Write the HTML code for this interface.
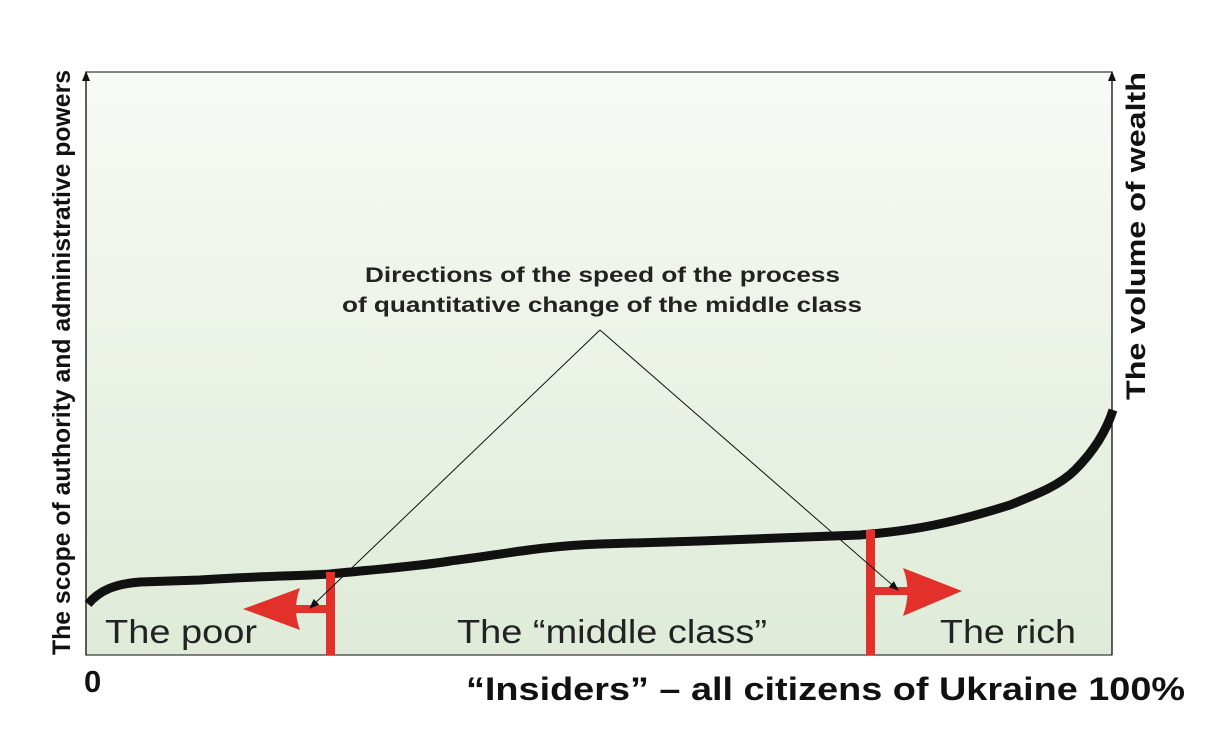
<!DOCTYPE html>
<html><head><meta charset="utf-8"><style>
body{margin:0;background:#fff;width:1205px;height:744px;overflow:hidden}
svg{display:block}
text{font-family:"Liberation Sans",sans-serif}
</style></head><body>
<svg width="1205" height="744" viewBox="0 0 1205 744">
<defs>
<linearGradient id="g" x1="0" y1="0" x2="0" y2="1">
<stop offset="0" stop-color="#f8faf5"/><stop offset="1" stop-color="#dfebd8"/>
</linearGradient>
<marker id="a" markerWidth="10" markerHeight="8" refX="9" refY="4" orient="auto" markerUnits="userSpaceOnUse"><path d="M0,0 L10,4 L0,8 Z" fill="#111"/></marker>
</defs>
<rect x="86" y="72" width="1026" height="583" fill="url(#g)" stroke="#333" stroke-width="1.2"/>
<line x1="86" y1="655" x2="86" y2="72" stroke="#111" stroke-width="1.2" marker-end="url(#a)"/>
<line x1="1112" y1="655" x2="1112" y2="72" stroke="#111" stroke-width="1.2" marker-end="url(#a)"/>
<path d="M88,604 C100,590 115,584 140,582 L200,580 C260,576 300,576 330,574 C380,569 420,566 450,561 C500,555 540,546 600,544 L700,541 L860,535 C910,531 950,524 1010,505 C1040,493 1060,485 1075,470 C1090,455 1105,435 1113,410" fill="none" stroke="#111" stroke-width="9"/>
<rect x="326" y="572" width="9" height="83" fill="#e2302b"/>
<rect x="295" y="605" width="35" height="8" fill="#e2302b"/>
<path d="M243,609 L300,588 Q292,609 300,630 Z" fill="#e2302b"/>
<rect x="866" y="530" width="9" height="125" fill="#e2302b"/>
<rect x="870" y="587" width="40" height="8" fill="#e2302b"/>
<path d="M962,591 L903,568 Q912,591 903,616 Z" fill="#e2302b"/>
<line x1="600" y1="330" x2="310" y2="608" stroke="#111" stroke-width="1" marker-end="url(#a)"/>
<line x1="600" y1="330" x2="898" y2="590" stroke="#111" stroke-width="1" marker-end="url(#a)"/>
<text x="365" y="282" font-size="21" font-weight="bold" fill="#222" textLength="475" lengthAdjust="spacingAndGlyphs">Directions of the speed of the process</text>
<text x="342" y="312" font-size="21" font-weight="bold" fill="#222" textLength="520" lengthAdjust="spacingAndGlyphs">of quantitative change of the middle class</text>
<text x="105" y="643" font-size="33" fill="#222" textLength="152" lengthAdjust="spacingAndGlyphs">The poor</text>
<text x="457" y="643" font-size="33" fill="#222" textLength="310" lengthAdjust="spacingAndGlyphs">The “middle class”</text>
<text x="940" y="643" font-size="33" fill="#222" textLength="136" lengthAdjust="spacingAndGlyphs">The rich</text>
<text x="84" y="692" font-size="31" font-weight="bold" fill="#111">0</text>
<text x="466" y="700" font-size="32" font-weight="bold" fill="#111" textLength="719" lengthAdjust="spacingAndGlyphs">“Insiders” – all citizens of Ukraine 100%</text>
<text transform="translate(70,655) rotate(-90)" font-size="25" font-weight="bold" fill="#111" textLength="585" lengthAdjust="spacingAndGlyphs">The scope of authority and administrative powers</text>
<text transform="translate(1145,400) rotate(-90)" font-size="27" font-weight="bold" fill="#111" textLength="328" lengthAdjust="spacingAndGlyphs">The volume of wealth</text>
</svg>
</body></html>
